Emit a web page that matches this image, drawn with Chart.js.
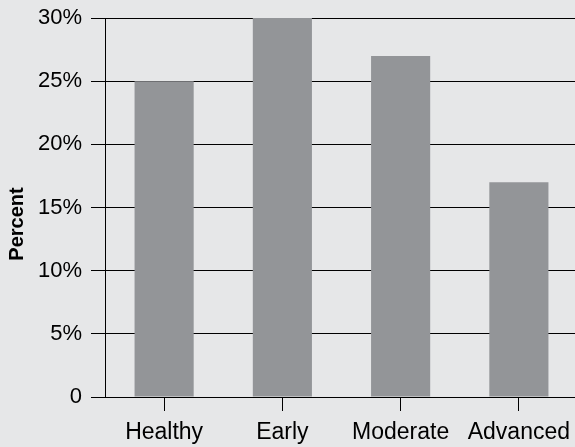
<!DOCTYPE html>
<html>
<head>
<meta charset="utf-8">
<script src="https://cdn.jsdelivr.net/npm/chart.js@4"></script>
<style>
  html, body { margin: 0; padding: 0; background: #e6e7e8; overflow: hidden; }
  #wrap { width: 578px; height: 447px; }
</style>
</head>
<body>
<div id="wrap"><canvas id="c" width="578" height="447"></canvas></div>
<script>
// Share of participants by disease stage
const categories = ['Healthy', 'Early', 'Moderate', 'Advanced'];
const percentValues = [25, 30, 27, 17];
const yTickValues = [0, 5, 10, 15, 20, 25, 30];
const yAxisTitle = 'Percent';

const FONT = '"Liberation Sans", Arial, Helvetica, sans-serif';

// Vertical axis title, set a little below the plot's centre line
const axisTitlePlugin = {
  id: 'axisTitle',
  afterDraw(chart) {
    const ctx = chart.ctx;
    ctx.save();
    ctx.translate(17, 224);
    ctx.rotate(-Math.PI / 2);
    ctx.font = 'bold 20px ' + FONT;
    ctx.fillStyle = '#000';
    ctx.textAlign = 'center';
    ctx.textBaseline = 'middle';
    ctx.fillText(yAxisTitle, 0, 0);
    ctx.restore();
  }
};

new Chart(document.getElementById('c'), {
  type: 'bar',
  data: {
    labels: categories,
    datasets: [{
      data: percentValues,
      backgroundColor: '#939598',
      borderWidth: 0,
      barPercentage: 0.5,
      categoryPercentage: 1.0
    }]
  },
  options: {
    responsive: false,
    animation: false,
    layout: { padding: { top: 18, right: 0, bottom: 0, left: 0 } },
    plugins: { legend: { display: false }, tooltip: { enabled: false } },
    scales: {
      x: {
        grid: {
          offset: false,
          drawOnChartArea: false,
          drawTicks: true,
          tickLength: 14,
          color: '#000',
          lineWidth: 1
        },
        border: { display: true, color: '#000', width: 1 },
        ticks: {
          color: '#000',
          padding: 8,
          maxRotation: 0,
          font: { family: FONT, size: 23 }
        },
        afterFit: (s) => { s.height = 50; s.paddingLeft = 0; s.paddingRight = 0; }
      },
      y: {
        min: 0,
        max: 30,
        afterBuildTicks: (s) => { s.ticks = yTickValues.map(v => ({ value: v })); },
        grid: {
          drawOnChartArea: true,
          drawTicks: true,
          tickLength: 14,
          color: '#000',
          lineWidth: 1
        },
        border: { display: true, color: '#000', width: 1 },
        ticks: {
          color: '#000',
          padding: 9,
          font: { family: FONT, size: 22 },
          callback: (v) => v === 0 ? '0' : v + '%'
        },
        afterFit: (s) => { s.width = 105; s.paddingTop = 0; s.paddingBottom = 0; }
      }
    }
  },
  plugins: [axisTitlePlugin]
});
</script>
</body>
</html>
